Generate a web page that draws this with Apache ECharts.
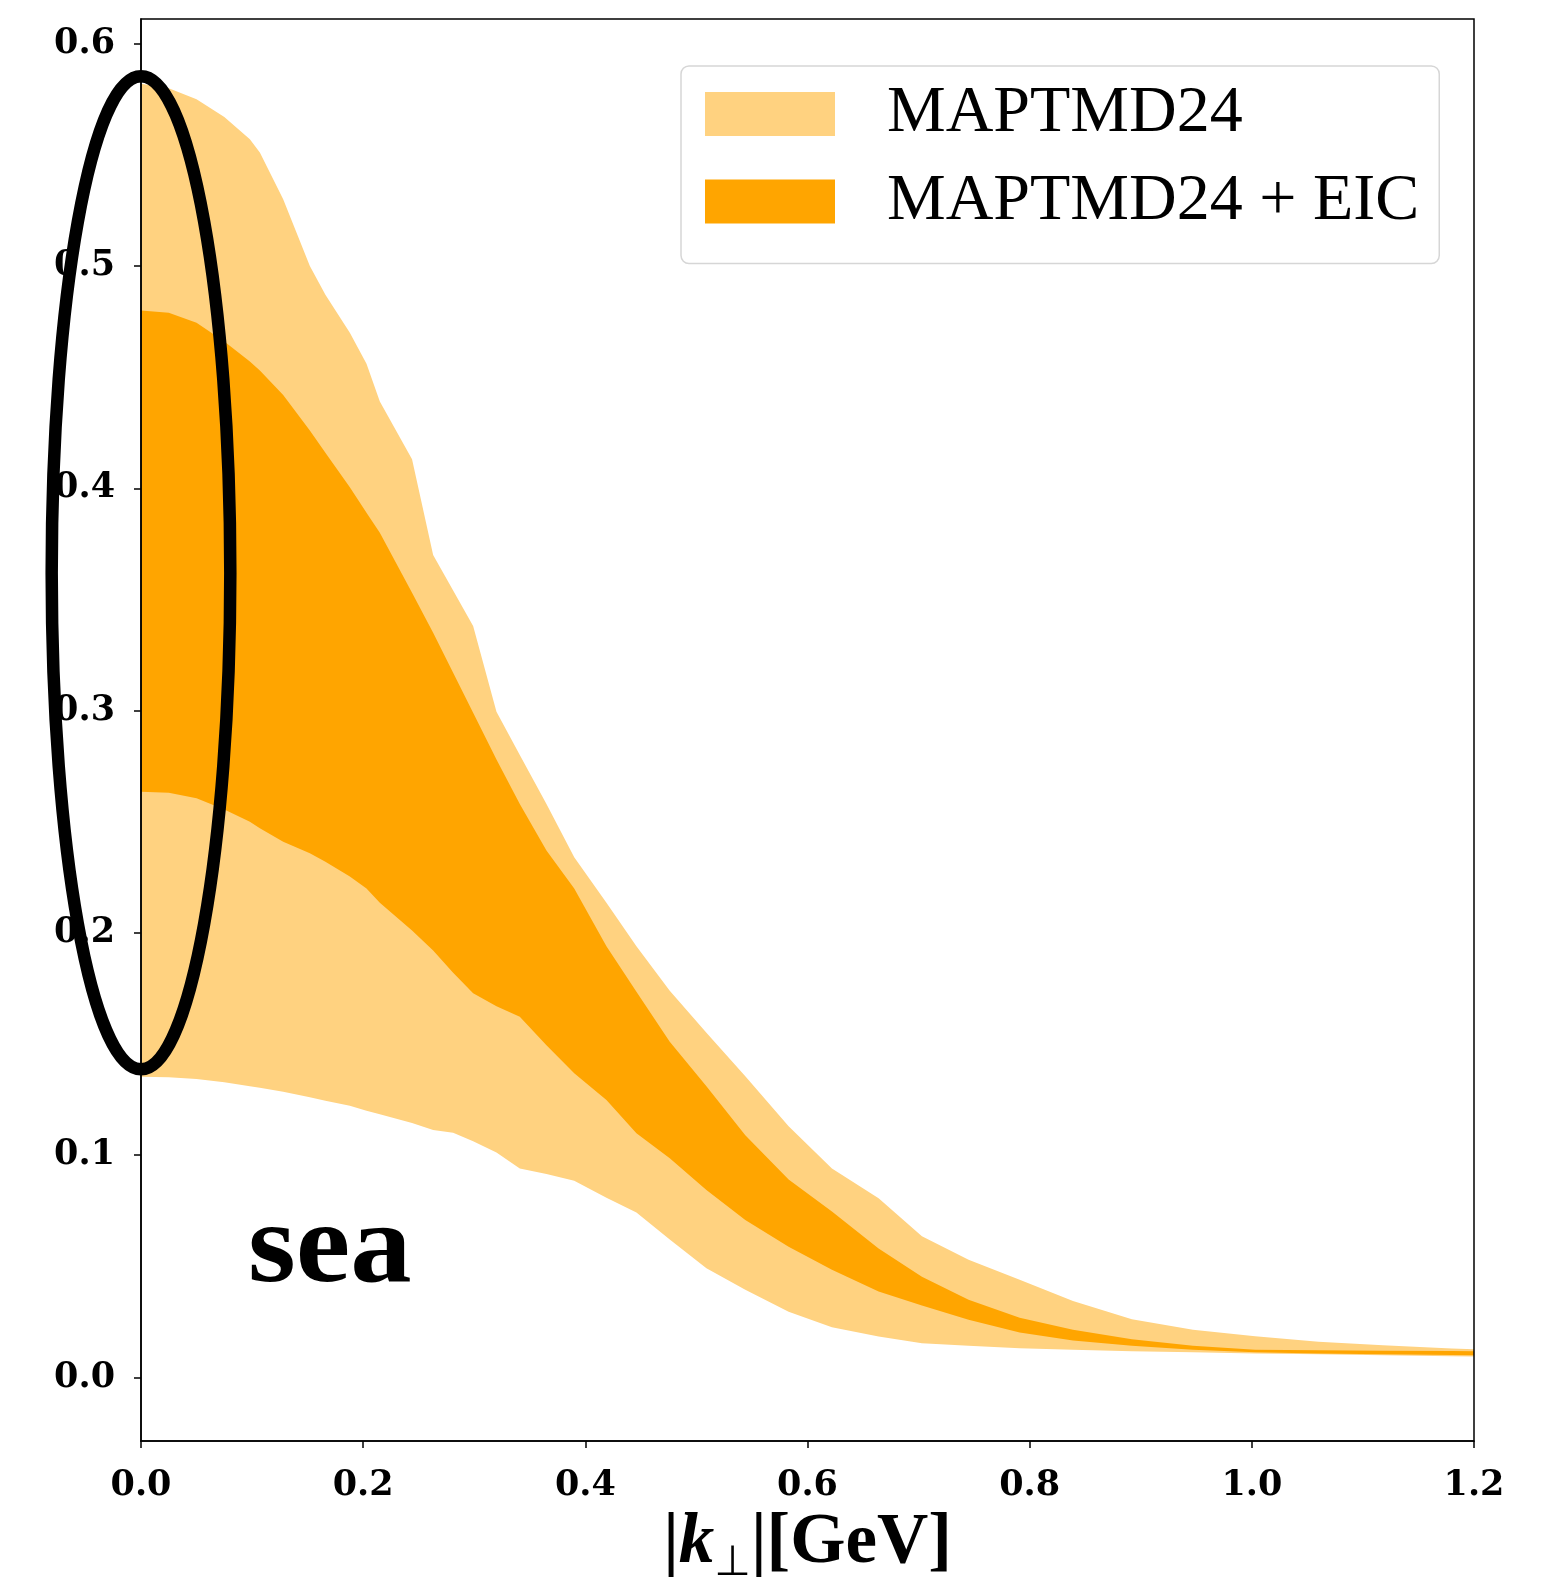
<!DOCTYPE html>
<html><head><meta charset="utf-8">
<script src="https://cdn.jsdelivr.net/npm/echarts@6/dist/echarts.min.js"></script>
<style>html,body{margin:0;padding:0;background:#fff}#chart{width:1562px;height:1585px}</style>
</head><body><div id="chart"></div>
<script>
// |k_perp| grid (GeV)
const kperp = [0, 0.025, 0.05, 0.075, 0.098, 0.107, 0.128, 0.152, 0.166, 0.188, 0.203, 0.215, 0.244, 0.263, 0.281, 0.299, 0.320, 0.341, 0.365, 0.390, 0.419, 0.446, 0.476, 0.509, 0.544, 0.583, 0.622, 0.664, 0.703, 0.745, 0.791, 0.839, 0.892, 0.947, 1.003, 1.06, 1.118, 1.18, 1.2];
// MAPTMD24 band
const mapUpper = [0.582, 0.580, 0.575, 0.567, 0.557, 0.551, 0.530, 0.500, 0.487, 0.470, 0.456, 0.439, 0.413, 0.370, 0.354, 0.338, 0.2995, 0.280, 0.258, 0.234, 0.2135, 0.194, 0.174, 0.155, 0.1355, 0.113, 0.094, 0.0806, 0.0635, 0.0529, 0.0439, 0.0344, 0.0262, 0.0215, 0.0185, 0.0160, 0.0145, 0.0130, 0.0127];
const mapLower = [0.1353, 0.1350, 0.1342, 0.1328, 0.1310, 0.1303, 0.1285, 0.1260, 0.1245, 0.1222, 0.1200, 0.1184, 0.1144, 0.1113, 0.1101, 0.1062, 0.1012, 0.0940, 0.0915, 0.0885, 0.0808, 0.0742, 0.0620, 0.0491, 0.0394, 0.0296, 0.0226, 0.0184, 0.0154, 0.0142, 0.0131, 0.0124, 0.0118, 0.0113, 0.0108, 0.0104, 0.0100, 0.0095, 0.0094];
// MAPTMD24 + EIC band
const eicUpper = [0.480, 0.479, 0.4745, 0.466, 0.457, 0.453, 0.442, 0.426, 0.416, 0.4005, 0.389, 0.380, 0.353, 0.335, 0.317, 0.299, 0.278, 0.258, 0.237, 0.220, 0.194, 0.1735, 0.151, 0.131, 0.109, 0.089, 0.0746, 0.058, 0.0453, 0.0349, 0.0269, 0.0214, 0.0172, 0.0142, 0.0124, 0.0122, 0.0120, 0.0119, 0.0118];
const eicLower = [0.2635, 0.2630, 0.2605, 0.2555, 0.2500, 0.2470, 0.2410, 0.2358, 0.2320, 0.2254, 0.2200, 0.2135, 0.2010, 0.1920, 0.1820, 0.1728, 0.1670, 0.1623, 0.1494, 0.1368, 0.1248, 0.1099, 0.0986, 0.0843, 0.0708, 0.0588, 0.0484, 0.0386, 0.0323, 0.0259, 0.0202, 0.0166, 0.0142, 0.0124, 0.0113, 0.0108, 0.0104, 0.0101, 0.0100];
// highlight ellipse: [center k, center y, half-width k, half-height y]
const ellipseData = [0, 0.362, 0.0804, 0.2234];
const yTicks = [0, 0.1, 0.2, 0.3, 0.4, 0.5, 0.6];
const xTicks = [0, 0.2, 0.4, 0.6, 0.8, 1.0, 1.2];
const seriesNames = ['MAPTMD24', 'MAPTMD24 + EIC'];
const bandColors = ['#FFD280', '#FFA500'];

function bandRenderer(upper, lower, color) {
  return function (params, api) {
    if (params.dataIndex !== 0) return;
    const pts = [];
    for (let i = 0; i < kperp.length; i++) pts.push(api.coord([kperp[i], upper[i]]));
    for (let i = kperp.length - 1; i >= 0; i--) pts.push(api.coord([kperp[i], lower[i]]));
    return { type: 'polygon', shape: { points: pts }, style: { fill: color } };
  };
}

const chart = echarts.init(document.getElementById('chart'), null, { renderer: 'canvas' });
const tickFont = { fontFamily: 'DejaVu Serif', fontWeight: 'bold', fontSize: 35, color: '#000' };
chart.setOption({
  animation: false,
  backgroundColor: '#fff',
  grid: { left: 141, right: 88, top: 19, bottom: 144, outerBoundsMode: 'none', containLabel: false,
    show: true, borderColor: '#000', borderWidth: 1.5, backgroundColor: 'transparent', z: 10 },
  legend: {
    orient: 'vertical', left: 681, top: 66, padding: [15, 20, 29, 24],
    itemWidth: 130, itemHeight: 44, itemGap: 21.5,
    backgroundColor: '#fff', borderColor: '#d6d6d6', borderWidth: 1.5, borderRadius: 8,
    selectedMode: false,
    textStyle: { fontFamily: 'Liberation Serif', fontSize: 66, color: '#000', lineHeight: 44, padding: [0, 0, 0, 47] },
    data: [
      { name: seriesNames[0], icon: 'rect', itemStyle: { color: bandColors[0] } },
      { name: seriesNames[1], icon: 'rect', itemStyle: { color: bandColors[1] } }
    ]
  },
  xAxis: {
    type: 'value', min: 0, max: 1.2, interval: 0.2, z: 10,
    axisLine: { show: true, onZero: false, lineStyle: { color: '#000', width: 1.5 } },
    axisTick: { show: true, length: 7, lineStyle: { color: '#000', width: 1.5 }, customValues: xTicks },
    axisLabel: Object.assign({ margin: 27, formatter: v => v.toFixed(1), customValues: xTicks }, tickFont),
    splitLine: { show: false },
    name: '{a||}{k|k}{s|⊥}{a||[GeV]}',
    nameLocation: 'middle', nameGap: 51,
    nameTextStyle: {
      rich: {
        a: { fontFamily: 'Liberation Serif', fontWeight: 'bold', fontSize: 71, lineHeight: 84, color: '#000' },
        k: { fontFamily: 'Liberation Serif', fontWeight: 'bold', fontStyle: 'italic', fontSize: 71, lineHeight: 84, color: '#000' },
        s: { fontFamily: 'DejaVu Sans', fontSize: 42, lineHeight: 42, verticalAlign: 'bottom', color: '#000' }
      }
    }
  },
  yAxis: {
    type: 'value', min: -0.0286, max: 0.6111, z: 10,
    axisLine: { show: true, onZero: false, lineStyle: { color: '#000', width: 1.5 } },
    axisTick: { show: true, length: 7, lineStyle: { color: '#000', width: 1.5 }, customValues: yTicks },
    axisLabel: Object.assign({ margin: 26, padding: [6, 0, 0, 0], formatter: v => v.toFixed(1), customValues: yTicks }, tickFont),
    splitLine: { show: false }
  },
  graphic: [{
    type: 'text', left: 248, top: 1195, z: 20, scaleX: 1.04, scaleY: 0.96,
    style: { text: 'sea', fontFamily: 'Liberation Serif', fontWeight: 'bold', fontSize: 118, fill: '#000' }
  }],
  series: [
    { name: seriesNames[0], type: 'custom', z: 2, itemStyle: { color: bandColors[0] },
      data: [[kperp[0], mapUpper[0]]], renderItem: bandRenderer(mapUpper, mapLower, bandColors[0]) },
    { name: seriesNames[1], type: 'custom', z: 3, itemStyle: { color: bandColors[1] },
      data: [[kperp[0], eicUpper[0]]], renderItem: bandRenderer(eicUpper, eicLower, bandColors[1]) },
    { name: 'ellipse', type: 'custom', z: 15, clip: false, silent: true,
      data: [ellipseData],
      renderItem: function (params, api) {
        const c = api.coord([api.value(0), api.value(1)]);
        const s = api.size([api.value(2), api.value(3)]);
        return { type: 'ellipse', shape: { cx: c[0], cy: c[1], rx: s[0], ry: s[1] },
          style: { fill: 'none', stroke: '#000', lineWidth: 12.5 } };
      } }
  ]
});
</script></body></html>
